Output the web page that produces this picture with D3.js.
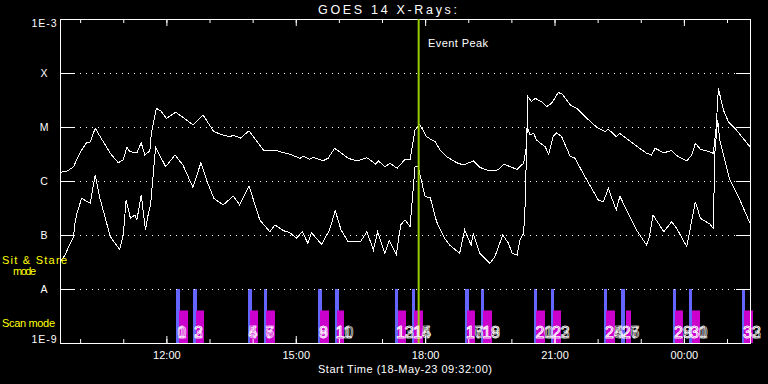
<!DOCTYPE html>
<html>
<head>
<meta charset="utf-8">
<script src="https://cdn.jsdelivr.net/npm/d3@7"></script>
<style>
  body { margin: 0; background: #000; }
  svg { display: block; background: #000; }
  text { font-family: "Liberation Sans", Arial, sans-serif; fill: #fff; }
  text.num { fill: none; stroke: #fff; stroke-width: 0.6; }
</style>
</head>
<body>
<svg width="768" height="384"></svg>
<script>
// minutes after the start time (18-May-23 09:32:00 UT)
const startTime = Date.UTC(2023, 4, 18, 9, 32, 0);
const spanMin = 960;
const eventPeakMin = 499;

// GOES 1-8 A (long channel), W/m^2
const longMin = [0, 10, 19, 23, 30, 37, 42, 49, 56, 70, 81, 88, 93, 97, 107, 113, 118, 125, 127, 134,
  140, 148, 161, 171, 185, 199, 214, 227, 237, 241, 251, 263, 283, 299, 306, 320, 334, 338, 347, 352,
  366, 373, 382, 389, 401, 413, 427, 439, 443, 452, 459, 469, 480, 487, 494, 500, 505, 510, 522, 529,
  538, 552, 561, 575, 584, 598, 609, 618, 626, 636, 645, 649, 651, 656, 661, 670, 677, 684, 693, 698,
  710, 719, 733, 746, 758, 763, 774, 779, 797, 816, 823, 828, 840, 851, 860, 872, 879, 884, 891, 900,
  909, 913, 916, 923, 930, 941, 960];
const longFlux = [1.45e-6, 1.53e-6, 1.84e-6, 2.45e-6, 3.75e-6, 5.1e-6, 5.3e-6, 9.5e-6, 6.6e-6, 3.26e-6,
  2.18e-6, 2.45e-6, 4.2e-6, 3.49e-6, 3.34e-6, 5.1e-6, 3.03e-6, 3.6e-6, 7.6e-6, 2.22e-5,
  2.0e-5, 1.45e-5, 1.87e-5, 1.51e-5, 1.09e-5, 1.67e-5, 8.2e-6, 7.1e-6, 6.6e-6, 7.1e-6,
  6.2e-6, 8.5e-6, 3.75e-6, 3.75e-6, 3.49e-6, 3.12e-6, 2.63e-6, 2.9e-6, 2.52e-6, 2.75e-6,
  2.38e-6, 2.63e-6, 4.03e-6, 3.49e-6, 2.63e-6, 2.35e-6, 2.7e-6, 2.06e-6, 2.35e-6, 1.84e-6,
  2.13e-6, 1.72e-6, 2.52e-6, 2.45e-6, 8.8e-6, 1.12e-5, 8.8e-6, 6.6e-6, 5.3e-6, 3.75e-6,
  2.82e-6, 2.18e-6, 1.98e-6, 2.35e-6, 1.79e-6, 1.53e-6, 1.6e-6, 2.06e-6, 1.84e-6, 1.65e-6,
  2.13e-6, 4.3e-6, 3.64e-5, 2.94e-5, 3.4e-5, 2.94e-5, 2.38e-5, 2.75e-5, 4.3e-5, 4.2e-5,
  2.55e-5, 2.22e-5, 1.45e-5, 1.01e-5, 8.2e-6, 9.1e-6, 6.6e-6, 7.6e-6, 4.99e-6, 3.26e-6,
  3.03e-6, 4.03e-6, 3.34e-6, 3.64e-6, 2.82e-6, 2.35e-6, 3.03e-6, 4.99e-6, 3.87e-6, 3.6e-6,
  3.26e-6, 1.01e-5, 5.2e-5, 2.06e-5, 1.25e-5, 8.8e-6, 4.3e-6];

// GOES 0.5-4 A (short channel), W/m^2
const shortMin = [0, 7, 12, 19, 20, 23, 30, 42, 49, 55, 70, 83, 88, 92, 98, 104, 107, 113, 119, 123,
  126, 133, 147, 160, 171, 185, 196, 204, 214, 227, 241, 250, 263, 278, 292, 299, 311, 320, 329, 337,
  345, 350, 364, 375, 383, 391, 401, 418, 427, 436, 442, 452, 458, 468, 474, 480, 487, 494, 498, 501,
  508, 515, 524, 535, 542, 556, 563, 572, 575, 584, 598, 605, 616, 624, 629, 636, 640, 645, 647, 650,
  654, 659, 663, 675, 680, 686, 691, 698, 710, 716, 733, 749, 756, 763, 767, 774, 779, 788, 802, 816,
  820, 825, 840, 851, 858, 872, 884, 891, 904, 909, 911, 915, 918, 932, 946, 960];
const shortFlux = [3.16e-8, 4.27e-8, 6.07e-8, 9.3e-8, 1.43e-7, 2.35e-7, 4.78e-7, 3.87e-7, 1.29e-6, 5.1e-7,
  9.3e-8, 5.43e-8, 1.0e-7, 4.45e-7, 2.04e-7, 2.35e-7, 1.9e-7, 5.5e-7, 1.24e-7, 2.52e-7,
  3.6e-7, 4.2e-6, 1.84e-6, 3.03e-6, 1.98e-6, 7.6e-7, 2.18e-6, 1.04e-6, 4.78e-7, 3.6e-7,
  5.27e-7, 3.6e-7, 8.1e-7, 1.9e-7, 1.15e-7, 1.53e-7, 1.2e-7, 1.1e-7, 8.7e-8, 1.15e-7,
  7.0e-8, 1.1e-7, 6.7e-8, 1.24e-7, 2.82e-7, 1.24e-7, 7.5e-8, 7.5e-8, 1.15e-7, 5.27e-8,
  1.15e-7, 4.58e-8, 7.8e-8, 4.4e-8, 1.53e-7, 1.9e-7, 1.43e-7, 1.84e-6, 1.9e-6, 1.29e-6,
  5.1e-7, 4.99e-7, 1.76e-7, 8.7e-8, 6.53e-8, 4.58e-8, 1.24e-7, 6.53e-8, 1.07e-7, 4.58e-8,
  2.99e-8, 3.96e-8, 1.0e-7, 7.0e-8, 4.58e-8, 4.27e-8, 8.1e-8, 1.07e-7, 3.34e-7, 1.01e-5,
  7.1e-6, 7.6e-6, 5.74e-6, 4.3e-6, 3.12e-6, 6.6e-6, 7.8e-6, 6.6e-6, 2.82e-6, 2.7e-6,
  1.04e-6, 4.45e-7, 4.14e-7, 7.3e-7, 5.1e-7, 2.9e-7, 5.27e-7, 2.9e-7, 1.24e-7, 6.53e-8,
  9.3e-8, 2.35e-7, 1.15e-7, 1.76e-7, 1.33e-7, 6.07e-8, 4.14e-7, 2.04e-7, 1.6e-7, 1.33e-7,
  3.26e-6, 1.35e-5, 5.74e-6, 1.04e-6, 4.45e-7, 1.65e-7];

// observation blocks: sit & stare marker (blue) and scan (magenta)
const stareStart = [162, 185, 261, 284, 359, 382, 466, 490, 563, 586, 660, 683, 757, 780, 853, 875, 949];
const stareEnd   = [167, 190, 266, 288, 364, 387, 470, 494, 568, 590, 664, 687, 761, 785, 857, 879, 953];
const scanStart  = [165, 189, 264, 286, 362, 386, 470, 492, 566, 588, 662, 686, 760, 787, 856, 879, 952];
const scanEnd    = [177, 200, 275, 299, 374, 396, 481, 504, 577, 601, 675, 697, 772, 794, 867, 890, 964];

const levelFlux  = [1e-3, 1e-4, 1e-5, 1e-6, 1e-7, 1e-8, 1e-9];
const levelNames = ["1E-3", "X", "M", "C", "B", "A", "1E-9"];

const margin = { top: 19, right: 18, bottom: 41, left: 60 };
const width = 768, height = 384;
const tickLen = 14;

var svg = d3.select("svg");
var toTime = m => new Date(startTime + m * 60000);

var x = d3.scaleUtc()
  .domain([toTime(0), toTime(spanMin)])
  .range([margin.left, width - margin.right]);
var y = d3.scaleLog()
  .domain([1e-9, 1e-3])
  .range([height - margin.bottom, margin.top]);

var x0 = x.range()[0], x1 = x.range()[1];
var yTop = y.range()[1], yBot = y.range()[0];

// observation bars
var bars = svg.append("g");
bars.selectAll(".stare").data(stareStart).enter().append("rect")
  .attr("x", (d, i) => Math.round(x(toTime(d))))
  .attr("width", (d, i) => Math.max(3, Math.round(x(toTime(stareEnd[i])) - x(toTime(d)))))
  .attr("y", y(1e-8))
  .attr("height", yBot - y(1e-8))
  .attr("fill", "#6464ff");
bars.selectAll(".scan").data(scanStart).enter().append("rect")
  .attr("x", d => Math.round(x(toTime(d))))
  .attr("width", (d, i) => Math.round(x(toTime(scanEnd[i])) - x(toTime(d))))
  .attr("y", y(4e-9))
  .attr("height", yBot - y(4e-9))
  .attr("fill", "#cc00cc");

// grid lines at class levels
var grid = svg.append("g").attr("shape-rendering", "crispEdges");
levelFlux.slice(1, -1).forEach(f => {
  var yy = Math.round(y(f)) + 0.5;
  grid.append("line")
    .attr("x1", x0 + tickLen).attr("x2", x1 - tickLen)
    .attr("y1", yy).attr("y2", yy)
    .attr("stroke", "#fff").attr("stroke-dasharray", "1,5");
  grid.append("line")
    .attr("x1", x0).attr("x2", x0 + tickLen).attr("y1", yy).attr("y2", yy).attr("stroke", "#fff");
  grid.append("line")
    .attr("x1", x1 - tickLen).attr("x2", x1).attr("y1", yy).attr("y2", yy).attr("stroke", "#fff");
});

// flux curves
var line = d3.line()
  .x(d => x(toTime(d[0])))
  .y(d => y(d[1]));
svg.append("path")
  .datum(longMin.map((m, i) => [m, longFlux[i]]))
  .attr("d", line).attr("fill", "none").attr("stroke", "#fff").attr("stroke-width", 1)
  .attr("shape-rendering", "crispEdges");
svg.append("path")
  .datum(shortMin.map((m, i) => [m, shortFlux[i]]))
  .attr("d", line).attr("fill", "none").attr("stroke", "#fff").attr("stroke-width", 1)
  .attr("shape-rendering", "crispEdges");

// time axes
function hourAxis(axis, every, size, fmt) {
  return axis.scale(x).ticks(d3.utcHour.every(every)).tickSize(size).tickFormat(fmt);
}
svg.append("g").attr("transform", `translate(0,${yBot})`)
  .call(hourAxis(d3.axisBottom(), 1, -4, ""));
svg.append("g").attr("transform", `translate(0,${yBot})`)
  .call(hourAxis(d3.axisBottom(), 3, -7, d3.utcFormat("%H:%M")).tickPadding(8));
svg.append("g").attr("transform", `translate(0,${yTop})`)
  .call(hourAxis(d3.axisTop(), 1, -4, ""));
svg.append("g").attr("transform", `translate(0,${yTop})`)
  .call(hourAxis(d3.axisTop(), 3, -7, ""));
svg.selectAll(".domain").remove();
svg.selectAll(".tick line").attr("stroke", "#fff");
svg.selectAll(".tick text")
  .attr("fill", "#fff")
  .style("font-family", '"Liberation Sans", Arial, sans-serif')
  .style("font-size", "11px");

svg.append("rect")
  .attr("x", x0 + 0.5).attr("y", yTop + 0.5)
  .attr("width", x1 - x0).attr("height", yBot - yTop)
  .attr("fill", "none").attr("stroke", "#fff");

// event peak marker
svg.append("line")
  .attr("x1", x(toTime(eventPeakMin))).attr("x2", x(toTime(eventPeakMin)))
  .attr("y1", yTop).attr("y2", yBot)
  .attr("stroke", "#99cc00").attr("stroke-width", 2);

// block numbers, two per block drawn on top of each other
var nums = svg.append("g").style("font-size", "16px");
stareStart.forEach((s, i) => {
  [2 * i, 2 * i + 1].forEach(n => {
    nums.append("text")
      .attr("class", "num")
      .attr("x", x(toTime(s)) + 1)
      .attr("y", yBot - 5)
      .text(n);
  });
});

// y labels
svg.selectAll(".ylab").data(levelNames).enter().append("text")
  .attr("x", 44)
  .attr("y", (d, i) => i == 0 ? yTop + 8 : i == levelNames.length - 1 ? yBot : y(levelFlux[i]) + 4)
  .attr("text-anchor", "middle")
  .attr("textLength", d => d.length > 1 ? 25 : null)
  .style("font-size", "10.5px")
  .text(d => d);

svg.append("text").attr("x", 318).attr("y", 14)
  .attr("textLength", 139).style("font-size", "12.5px")
  .text("GOES 14 X-Rays:");
svg.append("text").attr("x", 428).attr("y", 47)
  .attr("textLength", 60).style("font-size", "11px")
  .text("Event Peak");
svg.append("text").attr("x", (x0 + x1) / 2).attr("y", 372.5)
  .attr("text-anchor", "middle").attr("textLength", 174).style("font-size", "11px")
  .text("Start Time (18-May-23 09:32:00)");

svg.append("text").attr("x", 2).attr("y", 263.5)
  .attr("textLength", 65).style("font-size", "11px").style("fill", "#ffff00")
  .text("Sit & Stare");
svg.append("text").attr("x", 13).attr("y", 275)
  .attr("textLength", 23).style("font-size", "11px").style("fill", "#ffff00")
  .text("mode");
svg.append("text").attr("x", 2).attr("y", 327)
  .attr("textLength", 53).style("font-size", "11px").style("fill", "#ffff00")
  .text("Scan mode");
</script>
</body>
</html>
